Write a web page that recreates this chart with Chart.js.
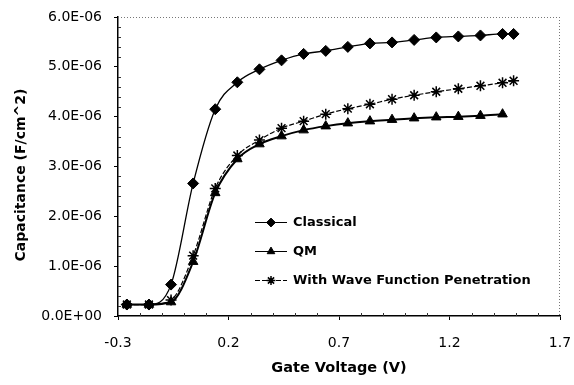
<!DOCTYPE html>
<html>
<head>
<meta charset="utf-8">
<script src="https://cdn.jsdelivr.net/npm/chart.js@4/dist/chart.umd.min.js"></script>
<style>
  html, body { margin: 0; padding: 0; background: #fff; }
  canvas { display: block; }
</style>
</head>
<body>
<canvas id="c" width="574" height="385"></canvas>
<script>
// ---- Data ----
const gateVoltage = [-0.26, -0.16, -0.06, 0.04, 0.14, 0.24, 0.34, 0.44, 0.54, 0.64, 0.74, 0.84, 0.94, 1.04, 1.14, 1.24, 1.34, 1.44, 1.49];
const classical = [0.23e-6, 0.23e-6, 0.63e-6, 2.66e-6, 4.15e-6, 4.69e-6, 4.95e-6, 5.13e-6, 5.26e-6, 5.32e-6, 5.40e-6, 5.47e-6, 5.49e-6, 5.54e-6, 5.59e-6, 5.61e-6, 5.63e-6, 5.66e-6, 5.66e-6];
const qm = [0.23e-6, 0.23e-6, 0.28e-6, 1.09e-6, 2.47e-6, 3.15e-6, 3.45e-6, 3.61e-6, 3.73e-6, 3.81e-6, 3.87e-6, 3.91e-6, 3.94e-6, 3.97e-6, 3.99e-6, 4.00e-6, 4.02e-6, 4.05e-6];
const wavePen = [0.23e-6, 0.23e-6, 0.32e-6, 1.21e-6, 2.56e-6, 3.22e-6, 3.53e-6, 3.77e-6, 3.91e-6, 4.05e-6, 4.16e-6, 4.25e-6, 4.35e-6, 4.43e-6, 4.50e-6, 4.56e-6, 4.62e-6, 4.68e-6, 4.72e-6];
const seriesNames = ['Classical', 'QM', 'With Wave Function Penetration'];
const xTickLabels = ['-0.3', '0.2', '0.7', '1.2', '1.7'];
const yTickLabels = ['0.0E+00', '1.0E-06', '2.0E-06', '3.0E-06', '4.0E-06', '5.0E-06', '6.0E-06'];
const xTitle = 'Gate Voltage (V)';
const yTitle = 'Capacitance (F/cm^2)';

const FONT = "'DejaVu Sans', sans-serif";
const toPoints = (ys) => ys.map((y, i) => ({ x: gateVoltage[i], y: y }));

// Minor ticks + dotted top/right frame + y title
const framePlugin = {
  id: 'frame',
  afterDraw(chart) {
    const { ctx, chartArea: a, scales } = chart;
    ctx.save();
    ctx.strokeStyle = '#777';
    ctx.lineWidth = 1;
    ctx.setLineDash([1, 2]);
    ctx.beginPath();
    ctx.moveTo(a.left, a.top + 0.5); ctx.lineTo(a.right, a.top + 0.5);
    ctx.moveTo(a.right - 0.5, a.top); ctx.lineTo(a.right - 0.5, a.bottom);
    ctx.stroke();
    ctx.setLineDash([]);
    ctx.strokeStyle = '#333';
    ctx.beginPath();
    const xs = scales.x, ys = scales.y;
    for (let k = 1; k < 20; k++) {
      if (k % 5 === 0) continue;
      const px = Math.round(xs.getPixelForValue(xs.min + k * 0.1)) + 0.5;
      ctx.moveTo(px, a.bottom); ctx.lineTo(px, a.bottom - 3);
    }
    for (let k = 1; k < 30; k++) {
      if (k % 5 === 0) continue;
      const py = Math.round(ys.getPixelForValue(k * 0.2e-6)) + 0.5;
      ctx.moveTo(a.left, py); ctx.lineTo(a.left + 3, py);
    }
    ctx.stroke();
    // y axis title
    ctx.translate(21, 175);
    ctx.rotate(-Math.PI / 2);
    ctx.font = 'bold 14px ' + FONT;
    ctx.fillStyle = '#000';
    ctx.textAlign = 'center';
    ctx.textBaseline = 'middle';
    ctx.fillText(yTitle, 0, 0);
    ctx.restore();
  }
};

// Legend drawn inside the plot area
const legendPlugin = {
  id: 'inLegend',
  afterDraw(chart) {
    const { ctx } = chart;
    const x0 = 255, x1 = 287, tx = 293;
    const rows = [222, 251, 280];
    ctx.save();
    chart.data.datasets.forEach((ds, i) => {
      const y = rows[i];
      ctx.strokeStyle = '#000';
      ctx.fillStyle = '#000';
      ctx.lineWidth = 1;
      ctx.setLineDash(ds.borderDash || []);
      ctx.beginPath();
      ctx.moveTo(x0, y + 0.5); ctx.lineTo(x1, y + 0.5);
      ctx.stroke();
      ctx.setLineDash([]);
      ctx.lineWidth = ds.pointBorderWidth || 1;
      Chart.helpers.drawPoint(ctx, {
        pointStyle: ds.pointStyle,
        rotation: 0,
        radius: ds.pointRadius * 0.8,
        borderWidth: ds.pointBorderWidth || 1
      }, (x0 + x1) / 2, y + 0.5);
      ctx.font = 'bold 13px ' + FONT;
      ctx.textBaseline = 'middle';
      ctx.textAlign = 'left';
      ctx.fillStyle = '#000';
      ctx.fillText(ds.label, tx, y + 1);
    });
    ctx.restore();
  }
};

new Chart(document.getElementById('c'), {
  type: 'line',
  data: {
    datasets: [
      {
        label: seriesNames[0],
        data: toPoints(classical),
        borderColor: '#000', backgroundColor: '#000',
        borderWidth: 1.3,
        pointStyle: 'rectRot', pointRadius: 5.5, pointBorderWidth: 1,
        cubicInterpolationMode: 'monotone'
      },
      {
        label: seriesNames[1],
        data: toPoints(qm),
        borderColor: '#000', backgroundColor: '#000',
        borderWidth: 2,
        pointStyle: 'triangle', pointRadius: 5.5, pointBorderWidth: 1,
        cubicInterpolationMode: 'monotone'
      },
      {
        label: seriesNames[2],
        data: toPoints(wavePen),
        borderColor: '#000', backgroundColor: '#000',
        borderWidth: 1.2,
        borderDash: [5, 2],
        pointStyle: 'star', pointRadius: 5.5, pointBorderWidth: 1.5,
        cubicInterpolationMode: 'monotone'
      }
    ]
  },
  options: {
    responsive: false,
    animation: false,
    devicePixelRatio: 1,
    layout: { padding: { left: 12, right: 14, top: 17, bottom: 8 } },
    plugins: { legend: { display: false }, tooltip: { enabled: false } },
    scales: {
      x: {
        type: 'linear',
        min: -0.3, max: 1.7,
        afterFit: (s) => { s.height = 385 - 316 - 8; s.paddingLeft = 0; s.paddingRight = 0; },
        ticks: {
          stepSize: 0.5,
          color: '#000',
          font: { family: FONT, size: 14 },
          padding: 15,
          maxRotation: 0,
          callback: (v, i) => xTickLabels[i]
        },
        grid: { drawOnChartArea: false, drawTicks: true, tickLength: 4, color: '#000' },
        border: { color: '#000', width: 1.5 },
        title: {
          display: true, text: xTitle, color: '#000',
          font: { family: FONT, size: 14.5, weight: 'bold' },
          padding: { top: 0, bottom: 0 }
        }
      },
      y: {
        type: 'linear',
        min: 0, max: 6e-6,
        afterFit: (s) => { s.width = 118 - 12; s.paddingTop = 0; s.paddingBottom = 0; },
        ticks: {
          stepSize: 1e-6,
          color: '#000',
          font: { family: FONT, size: 14 },
          padding: 12,
          callback: (v, i) => yTickLabels[i]
        },
        grid: { drawOnChartArea: false, drawTicks: true, tickLength: 4, color: '#000' },
        border: { color: '#000', width: 1.5 },
        title: { display: false, text: yTitle }
      }
    }
  },
  plugins: [framePlugin, legendPlugin]
});
</script>
</body>
</html>
